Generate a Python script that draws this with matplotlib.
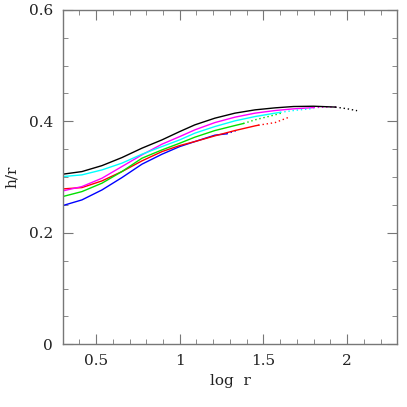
import numpy as np
import matplotlib
matplotlib.use("Agg")
import matplotlib.pyplot as plt
from matplotlib.ticker import MultipleLocator

# h/r against log r for six models; solid part then dotted continuation
black_x = [0.3, 0.415, 0.535, 0.654, 0.774, 0.894, 1.0, 1.09, 1.21, 1.33, 1.45, 1.57, 1.68, 1.8, 1.93]
black_y = [0.3051, 0.3098, 0.3205, 0.3349, 0.3518, 0.3667, 0.3816, 0.3936, 0.4056, 0.4146,
           0.4205, 0.4241, 0.4265, 0.427, 0.4255]
black_dx = [1.93, 2.0, 2.06]
black_dy = [0.4255, 0.4225, 0.419]

cyan_x = [0.3, 0.415, 0.535, 0.654, 0.774, 0.894, 1.0, 1.09, 1.21, 1.33, 1.45, 1.57, 1.6]
cyan_y = [0.3008, 0.3039, 0.3128, 0.3249, 0.341, 0.3547, 0.3667, 0.3787, 0.3906, 0.4008,
          0.4085, 0.4146, 0.416]
cyan_dx = [1.6, 1.68, 1.8]
cyan_dy = [0.416, 0.4193, 0.423]

magenta_x = [0.3, 0.415, 0.535, 0.654, 0.774, 0.894, 1.0, 1.09, 1.21, 1.33, 1.45, 1.57, 1.68, 1.8]
magenta_y = [0.2751, 0.2829, 0.2979, 0.3188, 0.3398, 0.359, 0.3726, 0.3846, 0.3977, 0.4074,
             0.4146, 0.4193, 0.4223, 0.4245]
magenta_dx = [1.8, 1.88, 1.95]
magenta_dy = [0.4245, 0.4255, 0.4255]

green_x = [0.3, 0.415, 0.535, 0.654, 0.774, 0.894, 1.0, 1.09, 1.21, 1.33, 1.38]
green_y = [0.265, 0.2739, 0.289, 0.3098, 0.3338, 0.3487, 0.3607, 0.3715, 0.3834, 0.3924, 0.396]
green_dx = [1.38, 1.45, 1.57, 1.62]
green_dy = [0.396, 0.4026, 0.4116, 0.4157]

red_x = [0.3, 0.415, 0.535, 0.654, 0.774, 0.894, 1.0, 1.09, 1.21, 1.33, 1.45, 1.47]
red_y = [0.2787, 0.2811, 0.2931, 0.3098, 0.329, 0.3457, 0.3565, 0.3636, 0.3739, 0.3834, 0.3918, 0.393]
red_dx = [1.47, 1.57, 1.65]
red_dy = [0.393, 0.3977, 0.407]

blue_x = [0.3, 0.415, 0.535, 0.654, 0.774, 0.894, 1.0, 1.09, 1.21, 1.28]
blue_y = [0.2488, 0.259, 0.2769, 0.299, 0.3231, 0.341, 0.3547, 0.3636, 0.3751, 0.3775]
blue_dx = [1.28, 1.35]
blue_dy = [0.3775, 0.3846]

plt.rcParams['font.family'] = ['DejaVu Serif']

fig = plt.figure(figsize=(4.07, 4.07), dpi=100)
ax = fig.add_axes([0.154, 0.154, 0.822, 0.822])

curves = [
    (blue_x, blue_y, blue_dx, blue_dy, 'blue'),
    (red_x, red_y, red_dx, red_dy, 'red'),
    (green_x, green_y, green_dx, green_dy, '#00e000'),
    (magenta_x, magenta_y, magenta_dx, magenta_dy, 'magenta'),
    (cyan_x, cyan_y, cyan_dx, cyan_dy, 'cyan'),
    (black_x, black_y, black_dx, black_dy, 'black'),
]
for sx, sy, dx, dy, c in curves:
    ax.plot(sx, sy, color=c, lw=1.0)
    ax.plot(dx, dy, color=c, lw=1.0, linestyle=(0, (1, 2)))

ax.set_xlim(0.3, 2.3)
ax.set_ylim(0, 0.6)
ax.xaxis.set_minor_locator(MultipleLocator(0.1))
ax.yaxis.set_minor_locator(MultipleLocator(0.05))
ax.set_xticks([0.5, 1, 1.5, 2])
ax.set_xticklabels(['0.5', '1', '1.5', '2'])
ax.set_yticks([0, 0.2, 0.4, 0.6])
ax.set_yticklabels(['0', '0.2', '0.4', '0.6'])

for s in ax.spines.values():
    s.set_color('#777777')
    s.set_linewidth(1.0)
ax.tick_params(which='both', direction='in', top=True, right=True, color='#777777',
               labelsize=11, labelcolor='#222222', pad=7)
ax.tick_params(which='major', length=7)
ax.tick_params(which='minor', length=3.5)

ax.set_xlabel('log  r', fontsize=11, color='#222222', labelpad=4)
ax.set_ylabel('h/r', fontsize=11, color='#222222', labelpad=7)

fig.savefig('out.png', dpi=100)
